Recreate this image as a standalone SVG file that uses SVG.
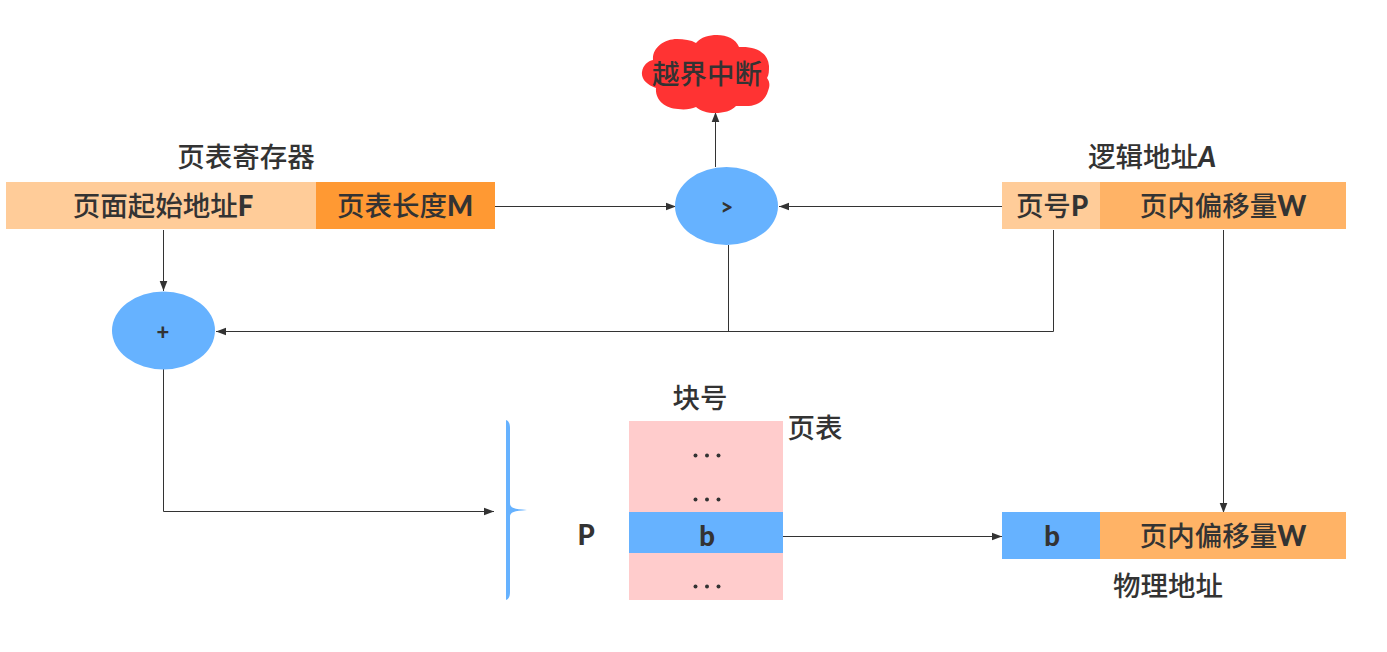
<svg xmlns="http://www.w3.org/2000/svg" width="1387" height="652" viewBox="0 0 1387 652">
  <style>
    text { font-family: "Lato", "Noto Sans CJK SC", sans-serif; font-size: 27.500px; font-weight: 500; fill: #333; text-anchor: middle; }
    .lat { font-weight: 900; }
    .wire { fill: none; stroke: #333; stroke-width: 1; }
    .oval { fill: #66b2ff; }
    .dots { fill: #333; }
  </style>
  <defs>
    <marker id="arrow" viewBox="0 0 10 10" refX="10" refY="5" markerWidth="10" markerHeight="10" markerUnits="userSpaceOnUse" orient="auto">
      <path d="M0 1.2 L10 5 L0 8.800 Z" fill="#333"/>
    </marker>
  </defs>

  <g id="connectors">
    <path class="wire" marker-end="url(#arrow)" d="M495 206.500H676"/>
    <path class="wire" marker-end="url(#arrow)" d="M1002 206.500H779"/>
    <path class="wire" marker-end="url(#arrow)" d="M715.500 167V112"/>
    <path class="wire" marker-end="url(#arrow)" d="M163.500 230V291"/>
    <path class="wire" d="M728.500 245V331.500"/>
    <path class="wire" marker-end="url(#arrow)" d="M1053.500 230V331.500H216"/>
    <path class="wire" marker-end="url(#arrow)" d="M163.500 369V511.500H494"/>
    <path class="wire" marker-end="url(#arrow)" d="M1223.500 230V513"/>
    <path class="wire" marker-end="url(#arrow)" d="M783 536.500H1002"/>
  </g>

  <g id="page-table-register">
    <text x="246" y="167">页表寄存器</text>
    <rect x="6" y="182" width="310" height="47" fill="#ffcc99"/>
    <rect x="316" y="182" width="179" height="47" fill="#ff9933"/>
    <text x="163" y="216">页面起始地址<tspan class="lat">F</tspan></text>
    <text x="405" y="216">页表长度<tspan class="lat">M</tspan></text>
  </g>

  <g id="logical-address">
    <text x="1152" y="167">逻辑地址<tspan class="lat" font-style="italic">A</tspan></text>
    <rect x="1002" y="182" width="98" height="47" fill="#ffcc99"/>
    <rect x="1100" y="182" width="246" height="47" fill="#ffb366"/>
    <text x="1052" y="216">页号<tspan class="lat">P</tspan></text>
    <text x="1223" y="216">页内偏移量<tspan class="lat">W</tspan></text>
  </g>

  <g id="overflow-interrupt">
    <path fill="#ff3333" d="M656 88C647 85 641 79 642 72C643 65 648 61 653 60C652 48 664 39 677 39C684 39 691 40 696 43C701 37 709 35 717 35C727 35 736 39 739 47C755 46 768 52 769 66C769 71 769 75 767 78C770 82 770 86 768 91C765 101 757 106 746 106C742 106 739 106 736 106C731 111 724 113 715 113C707 113 701 111 696 107C691 109 685 110 678 109C665 108 655 100 656 88Z"/>
    <text x="707" y="84">越界中断</text>
  </g>

  <g id="compare">
    <ellipse class="oval" cx="726.500" cy="206" rx="51.500" ry="39"/>
    <text class="lat" x="727" y="215" style="font-size:22px">&gt;</text>
  </g>

  <g id="adder">
    <ellipse class="oval" cx="163.500" cy="330.500" rx="51.500" ry="39"/>
    <text class="lat" x="163" y="340" style="font-size:22px">+</text>
  </g>

  <g id="page-table">
    <text x="700" y="408">块号</text>
    <text x="815" y="438">页表</text>
    <path class="oval" d="M506 420C509 421 510 424 510 428V503C510 508 514 509 527 510C514 511 510 512 510 517V592C510 596 509 599 506 600Z"/>
    <text class="lat" x="586" y="545">P</text>
    <rect x="629" y="421" width="154" height="91" fill="#ffcccc"/>
    <rect x="629" y="512" width="154" height="41" fill="#66b2ff"/>
    <rect x="629" y="553" width="154" height="47" fill="#ffcccc"/>
    <text class="lat" x="707" y="546">b</text>
    <g class="dots">
      <circle cx="695.500" cy="455.500" r="2"/><circle cx="707" cy="455.500" r="2"/><circle cx="718.500" cy="455.500" r="2"/>
      <circle cx="695.500" cy="499.500" r="2"/><circle cx="707" cy="499.500" r="2"/><circle cx="718.500" cy="499.500" r="2"/>
      <circle cx="695.500" cy="586.500" r="2"/><circle cx="707" cy="586.500" r="2"/><circle cx="718.500" cy="586.500" r="2"/>
    </g>
  </g>

  <g id="physical-address">
    <rect x="1002" y="512" width="98" height="47" fill="#66b2ff"/>
    <rect x="1100" y="512" width="246" height="47" fill="#ffb366"/>
    <text class="lat" x="1052" y="546">b</text>
    <text x="1223" y="546">页内偏移量<tspan class="lat">W</tspan></text>
    <text x="1168" y="596">物理地址</text>
  </g>
</svg>
